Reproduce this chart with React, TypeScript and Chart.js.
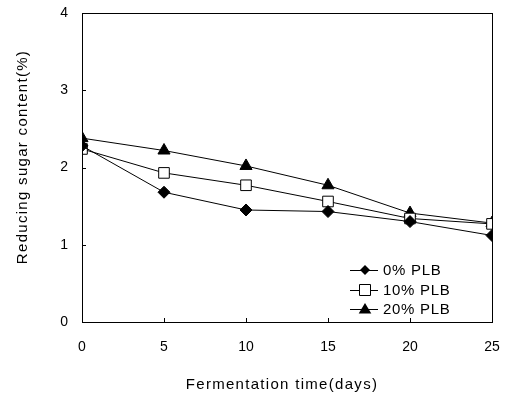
import React, { useEffect, useRef } from "react";
import { Chart, registerables } from "chart.js";

Chart.register(...registerables);

const days = [0, 5, 10, 15, 20, 25];
const plb0 = [2.28, 1.68, 1.45, 1.43, 1.3, 1.12];
const plb10 = [2.24, 1.93, 1.77, 1.56, 1.34, 1.27];
const plb20 = [2.38, 2.22, 2.02, 1.77, 1.41, 1.28];
const seriesLabels = ["0% PLB", "10% PLB", "20% PLB"];
const xTicks = [0, 5, 10, 15, 20, 25];
const yTicks = [0, 1, 2, 3, 4];
const xTitle = "Fermentation time(days)";
const yTitle = "Reducing sugar content(%)";

const FONT = "'Liberation Sans', Arial, sans-serif";

function drawMarker(ctx: CanvasRenderingContext2D, style: string, x: number, y: number, r: number) {
  ctx.save();
  ctx.beginPath();
  ctx.lineWidth = 1;
  ctx.strokeStyle = "#000";
  if (style === "rectRot") {
    ctx.moveTo(x, y - r);
    ctx.lineTo(x + r, y);
    ctx.lineTo(x, y + r);
    ctx.lineTo(x - r, y);
    ctx.closePath();
    ctx.fillStyle = "#000";
    ctx.fill();
  } else if (style === "rect") {
    ctx.rect(x - r, y - r, 2 * r, 2 * r);
    ctx.fillStyle = "#fff";
    ctx.fill();
    ctx.stroke();
  } else {
    ctx.moveTo(x, y - r);
    ctx.lineTo(x + r * 1.05, y + r * 0.75);
    ctx.lineTo(x - r * 1.05, y + r * 0.75);
    ctx.closePath();
    ctx.fillStyle = "#000";
    ctx.fill();
  }
  ctx.restore();
}

const framePlugin = {
  id: "frame",
  afterDraw(chart: any) {
    const { ctx, chartArea } = chart;
    const { left, right, top, bottom } = chartArea;
    ctx.save();
    ctx.strokeStyle = "#000";
    ctx.lineWidth = 1;
    ctx.strokeRect(left + 0.5, top + 0.5, right - left, bottom - top);
    const xs = chart.scales.x;
    const ys = chart.scales.y;
    ctx.beginPath();
    xTicks.forEach((t) => {
      const px = Math.round(xs.getPixelForValue(t)) + 0.5;
      ctx.moveTo(px, bottom);
      ctx.lineTo(px, bottom - 4);
    });
    yTicks.forEach((t) => {
      const py = Math.round(ys.getPixelForValue(t)) + 0.5;
      ctx.moveTo(left, py);
      ctx.lineTo(left + 4, py);
    });
    ctx.stroke();

    // axis titles
    ctx.fillStyle = "#000";
    ctx.font = `15px ${FONT}`;
    (ctx as any).letterSpacing = "1.3px";
    ctx.textAlign = "center";
    ctx.textBaseline = "middle";
    ctx.fillText(xTitle, 282, 385);
    ctx.save();
    ctx.translate(23, 157);
    ctx.rotate(-Math.PI / 2);
    ctx.fillText(yTitle, 0, 0);
    ctx.restore();

    // legend
    const styles = ["rectRot", "rect", "triangle"];
    const sizes = [5, 5.5, 6];
    const lx = 350;
    const rows = [270, 290, 309];
    (ctx as any).letterSpacing = "0.7px";
    ctx.textAlign = "left";
    rows.forEach((ry, i) => {
      ctx.beginPath();
      ctx.moveTo(lx, ry + 0.5);
      ctx.lineTo(lx + 28, ry + 0.5);
      ctx.stroke();
      drawMarker(ctx, styles[i], lx + 15, ry, sizes[i]);
      ctx.fillText(seriesLabels[i], lx + 33, ry + 1);
    });
    (ctx as any).letterSpacing = "0px";
    ctx.restore();
  },
};

export default function App() {
  const ref = useRef<HTMLCanvasElement>(null);
  useEffect(() => {
    document.body.style.margin = "0";
    const ds = (label: string, data: number[], style: string, radius: number, fill: string) => ({
      label,
      data: days.map((d, i) => ({ x: d, y: data[i] })),
      borderColor: "#000",
      borderWidth: 1,
      pointStyle: style,
      pointRadius: radius,
      pointBackgroundColor: fill,
      pointBorderColor: "#000",
      pointBorderWidth: 1,
      tension: 0,
    });
    const chart = new Chart(ref.current!, {
      type: "line",
      data: {
        datasets: [
          ds(seriesLabels[0], plb0, "rectRot", 6, "#000"),
          ds(seriesLabels[1], plb10, "rect", 7.5, "#fff"),
          ds(seriesLabels[2], plb20, "triangle", 7, "#000"),
        ],
      },
      options: {
        animation: false,
        responsive: false,
        layout: { padding: { left: 0, right: 15, top: 13, bottom: 0 } },
        plugins: { legend: { display: false }, tooltip: { enabled: false } },
        scales: {
          x: {
            type: "linear",
            min: 0,
            max: 25,
            afterFit: (s: any) => {
              s.height = 74;
              s.paddingLeft = 0;
              s.paddingRight = 0;
            },
            afterBuildTicks: (s: any) => {
              s.ticks = xTicks.map((v) => ({ value: v }));
            },
            grid: { display: false, drawTicks: false },
            border: { display: false },
            ticks: { color: "#000", font: { family: FONT, size: 14 }, padding: 17, maxRotation: 0 },
          },
          y: {
            min: 0,
            max: 4,
            afterFit: (s: any) => {
              s.width = 82;
              s.paddingTop = 0;
              s.paddingBottom = 0;
            },
            afterBuildTicks: (s: any) => {
              s.ticks = yTicks.map((v) => ({ value: v }));
            },
            grid: { display: false, drawTicks: false },
            border: { display: false },
            ticks: { color: "#000", font: { family: FONT, size: 14 }, padding: 14 },
          },
        },
      } as any,
      plugins: [framePlugin],
    });
    return () => chart.destroy();
  }, []);
  return (
    <div style={{ position: "absolute", left: 0, top: 0, width: 507, height: 396, background: "#fff" }}>
      <canvas ref={ref} width={507} height={396} style={{ display: "block" }} />
    </div>
  );
}
